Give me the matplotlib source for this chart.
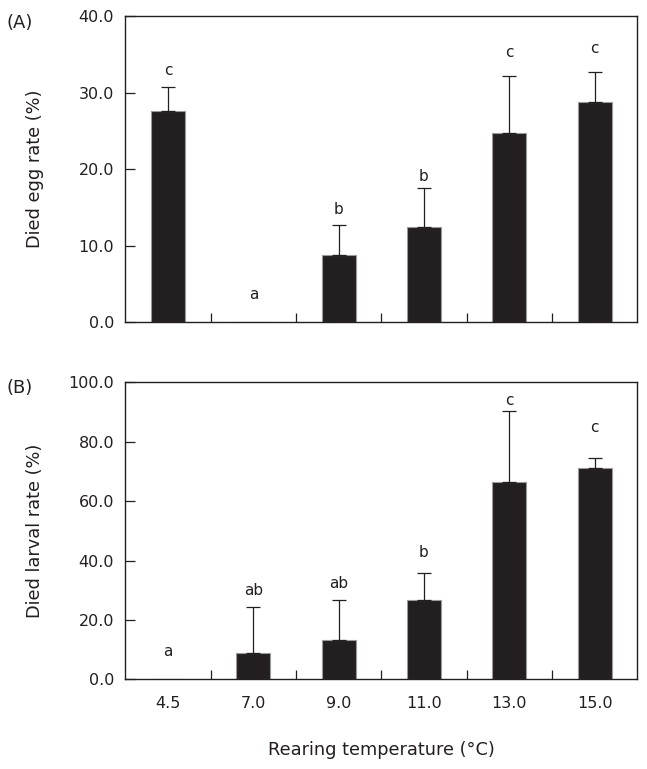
import numpy as np
import matplotlib
matplotlib.use("Agg")
import matplotlib.pyplot as plt
from matplotlib.ticker import FormatStrFormatter, FixedLocator

# data
temps = ["4.5", "7.0", "9.0", "11.0", "13.0", "15.0"]

egg_mean = [27.6, 0.0, 8.8, 12.4, 24.7, 28.8]
egg_sd = [3.1, 0.0, 3.9, 5.1, 7.4, 3.9]
egg_letters = ["c", "a", "b", "b", "c", "c"]
egg_letter_y = [32.3, 3.0, 14.2, 18.5, 34.6, 35.2]

larva_mean = [0.0, 8.8, 13.2, 26.7, 66.5, 71.0]
larva_sd = [0.0, 15.4, 13.5, 9.0, 23.9, 3.6]
larva_letters = ["a", "ab", "ab", "b", "c", "c"]
larva_letter_y = [7.9, 28.4, 30.6, 41.2, 92.5, 83.2]

ink = "#231f20"
plt.rcParams['font.family'] = ['DejaVu Sans']
plt.rcParams['text.color'] = ink


def draw_panel(ax, mean, sd, letters, letter_y, ymax, ystep, show_x):
    x = np.arange(len(mean))
    ax.bar(x, mean, width=0.4, color=ink, edgecolor="#9a9a9a", linewidth=0.8, zorder=2)
    has_err = [i for i in range(len(sd)) if sd[i] > 0]
    ax.errorbar(x[has_err], np.array(mean)[has_err],
                yerr=[np.zeros(len(has_err)), np.array(sd)[has_err]],
                fmt="none", ecolor=ink, elinewidth=0.9, capsize=4.7, capthick=0.9, zorder=3)
    for i in range(len(letters)):
        ax.text(x[i], letter_y[i], letters[i], ha="center", va="baseline", fontsize=11, color=ink)

    ax.set_xlim(-0.5, len(mean) - 0.5)
    ax.set_ylim(0, ymax)
    ax.set_yticks(np.arange(0, ymax + ystep / 2, ystep))
    ax.yaxis.set_major_formatter(FormatStrFormatter("%.1f"))
    ax.tick_params(axis="y", direction="in", length=7, width=0.9, pad=8, labelsize=11.5, colors=ink)

    ax.set_xticks(x)
    ax.xaxis.set_minor_locator(FixedLocator(np.arange(0.5, len(mean) - 1, 1.0)))
    ax.tick_params(axis="x", which="major", length=0, pad=12, labelsize=11.5, colors=ink)
    ax.tick_params(axis="x", which="minor", direction="in", length=6.5, width=0.9, colors=ink)
    if show_x:
        ax.set_xticklabels(temps)
    else:
        ax.set_xticklabels([])
    for s in ax.spines.values():
        s.set_linewidth(1.0)
        s.set_color(ink)


fig = plt.figure(figsize=(6.47, 7.69), dpi=100)
ax1 = fig.add_axes([0.1937, 0.5809, 0.7913, 0.3983])
ax2 = fig.add_axes([0.1937, 0.1166, 0.7913, 0.3862])

draw_panel(ax1, egg_mean, egg_sd, egg_letters, egg_letter_y, 40, 10, False)
draw_panel(ax2, larva_mean, larva_sd, larva_letters, larva_letter_y, 100, 20, True)

ax1.set_ylabel("Died egg rate (%)", fontsize=12.8, va="center", color=ink)
ax1.yaxis.set_label_coords(-0.176, 0.5)
ax2.set_ylabel("Died larval rate (%)", fontsize=12.8, va="center", color=ink)
ax2.yaxis.set_label_coords(-0.176, 0.5)

fig.text(0.589, 0.0247, "Rearing temperature (\u00b0C)", ha="center", va="center", fontsize=12.8)
fig.text(0.031, 0.970, "(A)", ha="center", va="center", fontsize=13)
fig.text(0.031, 0.495, "(B)", ha="center", va="center", fontsize=13)

fig.savefig("out.png", dpi=100)
